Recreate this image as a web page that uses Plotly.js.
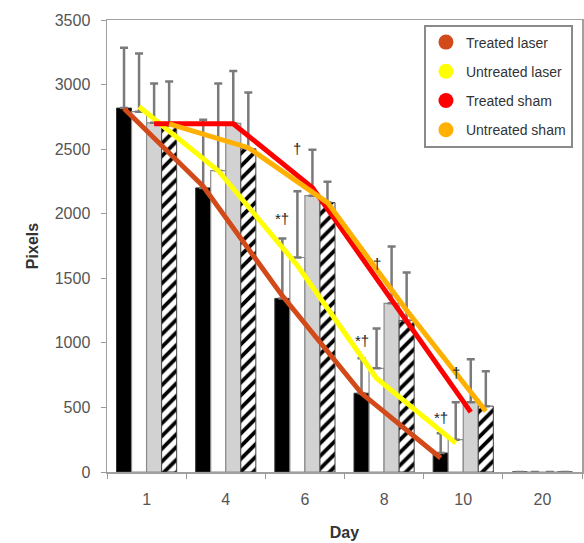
<!DOCTYPE html>
<html>
<head>
<meta charset="utf-8">
<script src="https://cdn.plot.ly/plotly-3.0.1.min.js"></script>
<style>html,body{margin:0;padding:0;background:#fff;}#chart{width:584px;height:543px;}</style>
</head>
<body>
<div id="chart"></div>
<script>
// ---- data ----
const days = ['1', '4', '6', '8', '10', '20'];
const seriesNames = ['Treated laser', 'Untreated laser', 'Treated sham', 'Untreated sham'];

const treatedLaser = [2818, 2200, 1344, 610, 147, 0];
const treatedLaserSD = [468, 527, 464, 271, 154, null];
const untreatedLaser = [2790, 2333, 1661, 803, 250, 0];
const untreatedLaserSD = [450, 675, 512, 309, 291, null];
const treatedSham = [2704, 2700, 2140, 1306, 541, 0];
const treatedShamSD = [304, 406, 355, 440, 332, null];
const untreatedSham = [2696, 2503, 2086, 1174, 510, 0];
const untreatedShamSD = [327, 435, 162, 371, 270, null];

// overlaid trend lines (days 1-10)
const treatedLaserLine = [2814, 2212, 1364, 609, 108];
const untreatedLaserLine = [2828, 2333, 1599, 726, 224];
const treatedShamLine = [2696, 2696, 2202, 1329, 464];
const untreatedShamLine = [2696, 2511, 2086, 1252, 471];

// significance marks
const sigLabels = ['*†', '†', '*†', '†', '*†', '†'];
const sigDayIndex = [2, 2, 3, 3, 4, 4];
const sigSeries = [0, 1, 0, 1, 0, 1];
const sigValues = [1962, 2503, 1020, 1615, 425, 773];

// ---- styling ----
const lineColors = ['#D24A1A', '#FFFF00', '#FF0000', '#FFB000'];
const bargap = 0.24;
const nSeries = 4;
const barW = (1 - bargap) / nSeries;
const offsetFor = k => (k - (nSeries - 1) / 2) * barW;

const barVals = [treatedLaser, untreatedLaser, treatedSham, untreatedSham];
const barSD = [treatedLaserSD, untreatedLaserSD, treatedShamSD, untreatedShamSD];
const lineVals = [treatedLaserLine, untreatedLaserLine, treatedShamLine, untreatedShamLine];
const barMarkers = [
  {color: '#000000', line: {color: '#333', width: 1}},
  {color: '#ffffff', line: {color: '#8a8a8a', width: 1.2}},
  {color: '#d2d2d2', line: {color: '#8a8a8a', width: 1.2}},
  {color: '#ffffff', line: {color: '#444', width: 1},
   pattern: {shape: '/', fgcolor: '#000', bgcolor: '#fff', size: 9, solidity: 0.42}}
];

const traces = [];
for (let k = 0; k < nSeries; k++) {
  traces.push({
    type: 'bar', x: days, y: barVals[k], name: seriesNames[k],
    marker: barMarkers[k], showlegend: false, hoverinfo: 'y',
    error_y: {type: 'data', array: barSD[k], arrayminus: barSD[k].map(v => v == null ? null : 0),
              symmetric: false, visible: true, color: '#7a7a7a', thickness: 2.5, width: 4}
  });
}
for (let k = 0; k < nSeries; k++) {
  traces.push({
    type: 'scatter', mode: 'lines', xaxis: 'x2', yaxis: 'y',
    x: lineVals[k].map((v, i) => i + offsetFor(k)), y: lineVals[k],
    line: {color: lineColors[k], width: 5}, showlegend: false, hoverinfo: 'skip'
  });
}
// legend entries
for (let k = 0; k < nSeries; k++) {
  traces.push({
    type: 'scatter', mode: 'markers', x: [null], y: [null], name: seriesNames[k],
    legendgroup: 'g' + k,
    marker: {color: lineColors[k], size: 15, symbol: 'circle'}
  });
}

const annotations = sigLabels.map((t, j) => ({
  xref: 'x2', yref: 'y', x: sigDayIndex[j] + offsetFor(sigSeries[j]), y: sigValues[j],
  text: t, showarrow: false, font: {size: 15, color: '#222', family: 'Liberation Sans, Arial'},
  xanchor: 'center', yanchor: 'middle'
}));

const layout = {
  width: 584, height: 543,
  margin: {l: 107, r: 2, t: 20, b: 71},
  paper_bgcolor: '#fff', plot_bgcolor: '#fff',
  font: {family: 'Liberation Sans, Arial, sans-serif', size: 16, color: '#555'},
  barmode: 'group', bargap: bargap, bargroupgap: 0,
  xaxis: {
    type: 'category', range: [-0.5, 5.5], ticks: 'outside', tickson: 'boundaries',
    ticklen: 5, tickcolor: '#999', linecolor: '#a0a0a0', linewidth: 1.5, mirror: true,
    showgrid: false, zeroline: false, ticklabelstandoff: 12,
    tickfont: {size: 16, color: '#555'},
    title: {text: '<b>Day</b>', font: {size: 16, color: '#333'}, standoff: 20}
  },
  xaxis2: {overlaying: 'x', range: [-0.5, 5.5], visible: false, showgrid: false, zeroline: false},
  yaxis: {
    range: [0, 3500], tick0: 0, dtick: 500, ticks: 'outside', ticklen: 5, tickcolor: '#999',
    linecolor: '#a0a0a0', linewidth: 1.5, mirror: true, showgrid: false, zeroline: false,
    ticklabelstandoff: 7, tickfont: {size: 16, color: '#555'},
    title: {text: '<b>Pixels</b>', font: {size: 16, color: '#333'}, standoff: 12}
  },
  legend: {
    x: 0.981, xanchor: 'right', y: 0.99, yanchor: 'top',
    bgcolor: '#fff', bordercolor: '#8a8a8a', borderwidth: 2,
    font: {size: 14, color: '#333'}, tracegroupgap: 8, itemwidth: 30
  },
  annotations: annotations
};

Plotly.newPlot('chart', traces, layout, {displayModeBar: false, staticPlot: true});
</script>
</body>
</html>
